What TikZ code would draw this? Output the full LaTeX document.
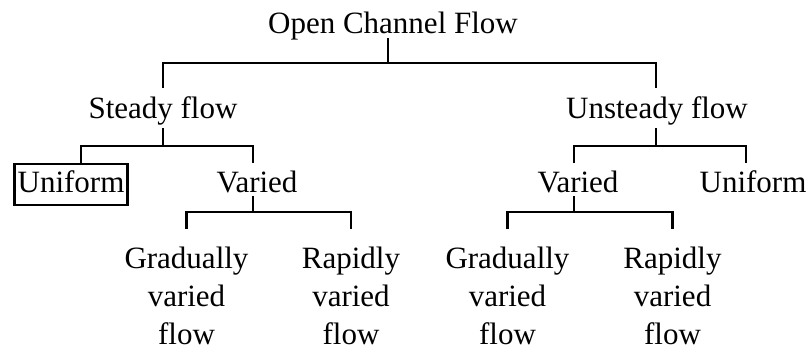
\documentclass[tikz,border=0pt]{standalone}
\usepackage{fontspec}
\setmainfont{Liberation Serif}
\begin{document}
\begin{tikzpicture}[x=1pt,y=1pt,
  lbl/.style={font=\fontsize{31}{38}\selectfont, inner sep=0pt, outer sep=0pt,
    text height=22pt, text depth=7pt, anchor=base},
  leaf/.style={font=\fontsize{31}{38}\selectfont, inner sep=0pt, outer sep=0pt,
    align=center, anchor=north},
  boxed/.style={draw, line width=2.8pt, inner xsep=3pt, inner ysep=6pt},
  conn/.style={line width=2.8pt, line join=miter}]
\useasboundingbox (0,0) rectangle (808,-349);

\node[lbl] (root) at (393,-33) {Open Channel Flow};
\node[lbl] (steady) at (163,-118) {Steady flow};
\node[lbl] (unsteady) at (657,-118) {Unsteady flow};
\node[lbl,boxed] (uniL) at (71,-192) {Uniform};
\node[lbl] (varL) at (257,-192) {Varied};
\node[lbl] (varR) at (578,-192) {Varied};
\node[lbl] (uniR) at (753,-192) {Uniform};
\node[leaf] (gradL) at (186.5,-247) {Gradually\\varied\\flow};
\node[leaf] (rapL) at (351,-247) {Rapidly\\varied\\flow};
\node[leaf] (gradR) at (507.5,-247) {Gradually\\varied\\flow};
\node[leaf] (rapR) at (672.5,-247) {Rapidly\\varied\\flow};

% root level
\draw[conn] ([xshift=-5pt,yshift=2pt]root.south) -- ++(0,-25);
\draw[conn] ([yshift=8pt]steady.north) -- ++(0,25) -| ([xshift=-1pt,yshift=8pt]unsteady.north);

% steady flow
\draw[conn] ([yshift=-3pt]steady.south) -- ++(0,-18);
\draw[conn] ([xshift=10pt]uniL.north) -- ++(0,18) -| ([xshift=-4pt,yshift=7pt]varL.north);

% unsteady flow
\draw[conn] ([xshift=-1pt,yshift=-3pt]unsteady.south) -- ++(0,-18);
\draw[conn] ([xshift=-4pt,yshift=7pt]varR.north) -- ++(0,17) -| ([xshift=-7pt,yshift=7pt]uniR.north);

% varied (left)
\draw[conn] ([xshift=-4pt,yshift=3pt]varL.south) -- ++(0,-16);
\draw[conn] ([yshift=18pt]gradL.north) -- ++(0,17) -| ([yshift=18pt]rapL.north);

% varied (right)
\draw[conn] ([xshift=-4pt,yshift=3pt]varR.south) -- ++(0,-16);
\draw[conn] ([yshift=18pt]gradR.north) -- ++(0,17) -| ([yshift=18pt]rapR.north);
\end{tikzpicture}
\end{document}
